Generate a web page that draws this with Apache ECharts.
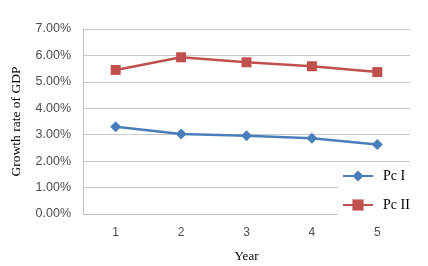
<!DOCTYPE html>
<html><head><meta charset="utf-8">
<script src="https://cdn.jsdelivr.net/npm/echarts@6/dist/echarts.min.js"></script>
<style>html,body{margin:0;padding:0;background:#fff}#c{width:428px;height:266px}</style>
</head><body><div id="c"></div>
<script>
const years = ['1','2','3','4','5'];
const pcI = [3.30, 3.03, 2.96, 2.87, 2.63];
const pcII = [5.45, 5.93, 5.74, 5.59, 5.37];
const yTicks = [0,1,2,3,4,5,6,7];

const chart = echarts.init(document.getElementById('c'));
chart.setOption({
  animation: false,
  backgroundColor: '#fff',
  grid: {left: 83, right: 18, top: 29, bottom: 52, outerBoundsMode: 'none', containLabel: false},
  xAxis: {
    type: 'category', data: years, boundaryGap: true,
    name: 'Year', nameLocation: 'middle', nameGap: 36,
    nameTextStyle: {fontFamily: 'Liberation Serif', fontSize: 13, color: '#000'},
    axisLine: {lineStyle: {color: '#bfbfbf', width: 1}},
    axisTick: {show: false},
    axisLabel: {fontFamily: 'Liberation Sans', fontSize: 12, color: '#4d4d4d', margin: 13}
  },
  yAxis: {
    type: 'value', min: 0, max: 7, interval: 1,
    name: 'Growth rate of GDP', nameLocation: 'middle', nameGap: 60,
    nameTextStyle: {fontFamily: 'Liberation Serif', fontSize: 13.5, color: '#000'},
    axisLine: {show: true, lineStyle: {color: '#bfbfbf', width: 1}},
    axisTick: {show: false},
    axisLabel: {fontFamily: 'Liberation Sans', fontSize: 12.5, color: '#4d4d4d', margin: 12,
      formatter: v => v.toFixed(2) + '%'},
    splitLine: {lineStyle: {color: '#c8c8c8', width: 1}}
  },
  legend: {
    orient: 'vertical', left: 338, top: 163,
    padding: [6, 10, 6, 4], backgroundColor: '#fff',
    itemWidth: 30, itemHeight: 14, itemGap: 15,
    textStyle: {fontFamily: 'Liberation Serif', fontSize: 14, color: '#000', padding: [0,0,0,5]},
    data: ['Pc I', 'Pc II']
  },
  series: [
    {name: 'Pc I', type: 'line', data: pcI, symbol: 'diamond', symbolSize: 11,
     color: '#4a7ebb', lineStyle: {width: 2.5, color: '#4a7ebb'}, itemStyle: {color: '#4a7ebb'}},
    {name: 'Pc II', type: 'line', data: pcII, symbol: 'rect', symbolSize: 10,
     color: '#c0504d', lineStyle: {width: 2.5, color: '#c0504d'}, itemStyle: {color: '#c0504d'}}
  ]
});
</script></body></html>
